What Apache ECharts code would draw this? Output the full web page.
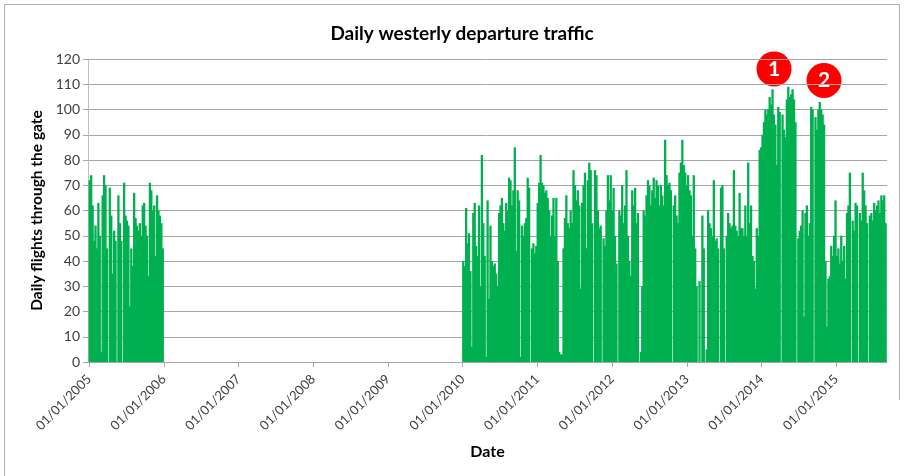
<!DOCTYPE html>
<html>
<head>
<meta charset="utf-8">
<script src="https://cdn.jsdelivr.net/npm/echarts@6/dist/echarts.min.js"></script>
<style>
html,body{margin:0;padding:0;background:#fff;}
#chart{width:905px;height:476px;}
</style>
</head>
<body>
<div id="chart"></div>
<script>
// Weekly estimates (flights per day, one value per week)
const segment2005Start = [2005, 0, 1];
const weekly2005 = [
  72, 74, 62, 48, 54, 45, 63, 50, 4, 66,
  74, 70, 45, 0, 69, 58, 35, 52, 48, 0,
  66, 55, 48, 0, 71, 58, 56, 54, 22, 45,
  38, 67, 57, 54, 52, 55, 50, 62, 63, 54,
  50, 34, 71, 68, 60, 62, 42, 66, 60, 58,
  55, 45
];
const segment2010Start = [2010, 0, 1];
const weekly2010 = [
  40, 38, 61, 47, 51, 36, 6, 59, 63, 46,
  42, 62, 30, 82, 55, 42, 2, 64, 25, 54,
  40, 38, 39, 35, 30, 59, 62, 65, 55, 52,
  63, 60, 73, 72, 62, 68, 85, 44, 68, 64,
  2, 54, 50, 55, 57, 73, 69, 0, 45, 47,
  43, 46, 63, 71, 82, 71, 70, 67, 68, 65,
  60, 50, 58, 65, 50, 65, 40, 4, 3, 3,
  45, 57, 66, 55, 53, 60, 55, 76, 70, 64,
  68, 62, 29, 63, 70, 75, 45, 72, 79, 76,
  55, 0, 76, 74, 60, 53, 54, 0, 49, 46,
  60, 74, 64, 74, 60, 69, 50, 39, 0, 60,
  58, 70, 55, 62, 76, 50, 40, 34, 68, 62,
  69, 55, 59, 0, 4, 30, 60, 58, 66, 72,
  70, 62, 68, 73, 65, 72, 70, 62, 70, 66,
  62, 88, 74, 70, 71, 68, 0, 62, 66, 58,
  55, 75, 79, 88, 78, 75, 70, 74, 68, 66,
  50, 74, 45, 30, 0, 32, 0, 58, 45, 0,
  5, 60, 55, 53, 50, 72, 48, 49, 45, 0,
  69, 70, 45, 0, 50, 59, 55, 53, 54, 76,
  54, 52, 50, 67, 53, 53, 50, 62, 50, 79,
  55, 62, 42, 40, 29, 53, 50, 84, 85, 90,
  95, 100, 98, 100, 105, 102, 108, 98, 94, 78,
  101, 99, 0, 98, 92, 89, 104, 109, 105, 106,
  108, 104, 95, 0, 49, 52, 54, 60, 18, 59,
  62, 50, 55, 101, 100, 0, 97, 92, 100, 103,
  100, 98, 94, 40, 14, 33, 34, 46, 42, 50,
  64, 42, 45, 39, 50, 40, 46, 33, 59, 62,
  75, 0, 56, 52, 63, 62, 0, 59, 56, 75,
  68, 62, 55, 0, 58, 59, 56, 63, 60, 62,
  64, 59, 66, 64, 66, 55
];
const axisStart = [2005, 0, 1];
const axisEnd = [2015, 8, 1];
const yMin = 0, yMax = 120, yStep = 10;
const titleText = 'Daily westerly departure traffic';
const yName = 'Daily flights through the gate';
const xName = 'Date';
const markers = ['1', '2'];

function weekPoints(start, values) {
  return values.map((v, i) => [new Date(start[0], start[1], start[2] + i * 7 + 3).getTime(), v]);
}
const data = weekPoints(segment2005Start, weekly2005).concat(weekPoints(segment2010Start, weekly2010));

const FONT = 'Lato, "Open Sans", sans-serif';
const chart = echarts.init(document.getElementById('chart'), null, {renderer: 'canvas'});
const YEAR = 365 * 24 * 3600 * 1000;

const option = {
  animation: false,
  backgroundColor: '#ffffff',
  title: {
    text: titleText,
    left: 457, top: 19, textAlign: 'center',
    textStyle: {fontFamily: FONT, fontSize: 19, fontWeight: 'bold', color: '#000'}
  },
  grid: {left: 88, right: 18, top: 59, bottom: 114, outerBoundsMode: 'none'},
  xAxis: {
    type: 'time',
    min: new Date(axisStart[0], axisStart[1], axisStart[2]).getTime(),
    max: new Date(axisEnd[0], axisEnd[1], axisEnd[2]).getTime(),
    minInterval: YEAR, maxInterval: YEAR * 1.01,
    name: xName, nameLocation: 'middle', nameGap: 82,
    nameTextStyle: {fontFamily: FONT, fontSize: 16, fontWeight: 'bold', color: '#000'},
    axisLine: {show: true, lineStyle: {color: '#a6a6a6', width: 1}},
    axisTick: {show: true, length: 5, lineStyle: {color: '#a6a6a6'}},
    axisLabel: {
      rotate: 45, fontFamily: FONT, fontSize: 13, color: '#404040', margin: 15,
      showMaxLabel: false,
      formatter: '{dd}/{MM}/{yyyy}'
    },
    splitLine: {show: false}
  },
  yAxis: {
    type: 'value', min: yMin, max: yMax, interval: yStep,
    name: yName, nameLocation: 'middle', nameGap: 43,
    nameTextStyle: {fontFamily: FONT, fontSize: 15.5, fontWeight: 'bold', color: '#000'},
    axisLine: {show: true, lineStyle: {color: '#bfbfbf'}},
    axisTick: {show: true, length: 5, lineStyle: {color: '#a6a6a6'}},
    axisLabel: {fontFamily: FONT, fontSize: 14, color: '#404040', margin: 8},
    splitLine: {show: true, lineStyle: {color: '#a6a6a6', width: 1}}
  },
  series: [{
    type: 'bar',
    data: data,
    barWidth: 2.3,
    itemStyle: {color: '#00b050'},
    emphasis: {disabled: true}
  }],
  graphic: [
    {type: 'polyline', shape: {points: [[4.5, 476], [4.5, 4.5], [899.5, 4.5], [899.5, 400]]}, style: {stroke: '#b0b0b0', fill: null, lineWidth: 1}, silent: true},
    {type: 'circle', shape: {cx: 774, cy: 69, r: 17.5}, style: {fill: '#ff0000'}, silent: true},
    {type: 'text', x: 774, y: 69, style: {text: markers[0], fill: '#fff', font: 'bold 21px ' + FONT, align: 'center', verticalAlign: 'middle'}, silent: true},
    {type: 'circle', shape: {cx: 824, cy: 80.5, r: 17.5}, style: {fill: '#ff0000'}, silent: true},
    {type: 'text', x: 824, y: 80.5, style: {text: markers[1], fill: '#fff', font: 'bold 21px ' + FONT, align: 'center', verticalAlign: 'middle'}, silent: true}
  ]
};
chart.setOption(option);
</script>
</body>
</html>
